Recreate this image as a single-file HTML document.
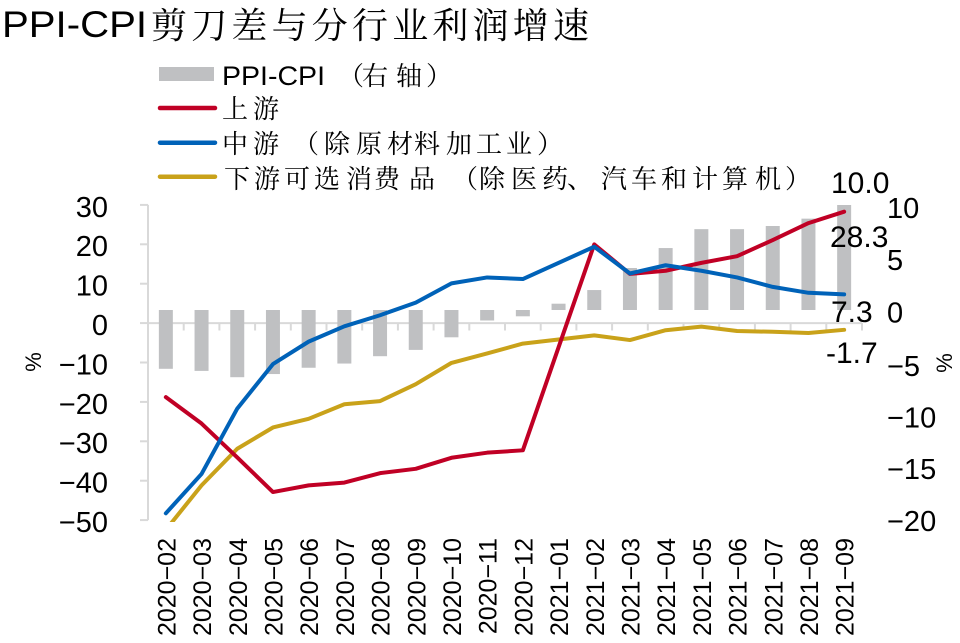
<!DOCTYPE html>
<html>
<head>
<meta charset="utf-8">
<style>
  html, body { margin: 0; padding: 0; background: #ffffff; }
  body { width: 960px; height: 643px; overflow: hidden; }
  svg { display: block; }
  .num { font-family: "Liberation Sans", Arial, sans-serif; fill: #000; }
  .cjk { font-family: "Liberation Sans", "Noto Serif CJK SC", "Noto Sans CJK SC", "WenQuanYi Zen Hei", sans-serif; fill: #000; }
</style>
</head>
<body>
<svg width="960" height="643" viewBox="0 0 960 643" xmlns="http://www.w3.org/2000/svg">
  <defs>
    <clipPath id="plot">
      <rect x="140" y="195" width="730" height="327"/>
    </clipPath>
  </defs>

  <!-- Title -->
  <text class="num" x="2" y="37" font-size="37" textLength="145" lengthAdjust="spacingAndGlyphs">PPI-CPI</text>
  <text class="cjk" x="151" y="38" font-size="36" textLength="438">剪刀差与分行业利润增速</text>

  <!-- Legend -->
  <rect x="159" y="67" width="55" height="14" fill="#bfc0c2"/>
  <text class="num" x="222" y="85" font-size="27" textLength="103" lengthAdjust="spacingAndGlyphs">PPI-CPI</text>
  <text class="cjk" x="338 362 396 426" y="85" font-size="26">（右轴）</text>

  <line x1="160" y1="108" x2="215" y2="108" stroke="#c00025" stroke-width="4.5" stroke-linecap="round"/>
  <text class="cjk" x="222 253" y="118" font-size="26">上游</text>

  <line x1="160" y1="142.7" x2="215" y2="142.7" stroke="#0062b8" stroke-width="4.5" stroke-linecap="round"/>
  <text class="cjk" x="222 253 293 324 356 387 414 446 476 506 537" y="153" font-size="26">中游（除原材料加工业）</text>

  <line x1="160" y1="176.7" x2="215" y2="176.7" stroke="#c9a21a" stroke-width="4.5" stroke-linecap="round"/>
  <text class="cjk" x="224 254 284 314 346 374 409 452 479 511 542 567 601 631 661 692 722 755 785" y="188" font-size="26">下游可选消费品（除医药、汽车和计算机）</text>

  <!-- Left axis -->
  <g stroke="#d9d9d9" stroke-width="2" fill="none">
    <line x1="148" y1="204.9" x2="148" y2="520.1"/>
    <line x1="140" y1="204.9" x2="148" y2="204.9"/>
    <line x1="140" y1="244.3" x2="148" y2="244.3"/>
    <line x1="140" y1="283.7" x2="148" y2="283.7"/>
    <line x1="140" y1="323.1" x2="148" y2="323.1"/>
    <line x1="140" y1="362.5" x2="148" y2="362.5"/>
    <line x1="140" y1="401.9" x2="148" y2="401.9"/>
    <line x1="140" y1="441.3" x2="148" y2="441.3"/>
    <line x1="140" y1="480.7" x2="148" y2="480.7"/>
    <line x1="140" y1="520.1" x2="148" y2="520.1"/>
  </g>
  <g class="num" font-size="29" text-anchor="end">
    <text x="108" y="217">30</text>
    <text x="108" y="256">20</text>
    <text x="108" y="295.5">10</text>
    <text x="108" y="335">0</text>
    <text x="108" y="374.5">−10</text>
    <text x="108" y="414">−20</text>
    <text x="108" y="453">−30</text>
    <text x="108" y="492.5">−40</text>
    <text x="108" y="532">−50</text>
  </g>
  <text class="num" font-size="22" text-anchor="middle" transform="translate(41,362) rotate(-90)">%</text>

  <!-- Right axis labels -->
  <g class="num" font-size="29">
    <text x="887" y="218">10</text>
    <text x="887" y="270">5</text>
    <text x="887" y="322.5">0</text>
    <text x="887" y="376">−5</text>
    <text x="887" y="427.5">−10</text>
    <text x="887" y="479">−15</text>
    <text x="887" y="531">−20</text>
  </g>
  <text class="num" font-size="22" text-anchor="middle" transform="translate(952,363) rotate(-90)">%</text>

  <!-- X axis line and ticks -->
  <g stroke="#d9d9d9" stroke-width="2" fill="none">
    <line x1="148" y1="323.1" x2="862" y2="323.1"/>
    <line x1="183.7" y1="323" x2="183.7" y2="330.5"/>
    <line x1="219.4" y1="323" x2="219.4" y2="330.5"/>
    <line x1="255.1" y1="323" x2="255.1" y2="330.5"/>
    <line x1="290.8" y1="323" x2="290.8" y2="330.5"/>
    <line x1="326.5" y1="323" x2="326.5" y2="330.5"/>
    <line x1="362.2" y1="323" x2="362.2" y2="330.5"/>
    <line x1="397.9" y1="323" x2="397.9" y2="330.5"/>
    <line x1="433.6" y1="323" x2="433.6" y2="330.5"/>
    <line x1="469.3" y1="323" x2="469.3" y2="330.5"/>
    <line x1="505" y1="323" x2="505" y2="330.5"/>
    <line x1="540.7" y1="323" x2="540.7" y2="330.5"/>
    <line x1="576.4" y1="323" x2="576.4" y2="330.5"/>
    <line x1="612.1" y1="323" x2="612.1" y2="330.5"/>
    <line x1="647.8" y1="323" x2="647.8" y2="330.5"/>
    <line x1="683.5" y1="323" x2="683.5" y2="330.5"/>
    <line x1="719.2" y1="323" x2="719.2" y2="330.5"/>
    <line x1="754.9" y1="323" x2="754.9" y2="330.5"/>
    <line x1="790.6" y1="323" x2="790.6" y2="330.5"/>
    <line x1="826.3" y1="323" x2="826.3" y2="330.5"/>
    <line x1="862" y1="323" x2="862" y2="330.5"/>
  </g>

  <!-- Bars (right axis) -->
  <g fill="#bfc0c2">
    <rect x="158.85" y="310" width="14" height="58.8"/>
    <rect x="194.55" y="310" width="14" height="60.9"/>
    <rect x="230.25" y="310" width="14" height="67.2"/>
    <rect x="265.95" y="310" width="14" height="64.05"/>
    <rect x="301.65" y="310" width="14" height="57.75"/>
    <rect x="337.35" y="310" width="14" height="53.55"/>
    <rect x="373.05" y="310" width="14" height="46.2"/>
    <rect x="408.75" y="310" width="14" height="39.9"/>
    <rect x="444.45" y="310" width="14" height="27.3"/>
    <rect x="480.15" y="310" width="14" height="10.5"/>
    <rect x="515.85" y="310" width="14" height="6.3"/>
    <rect x="551.55" y="303.7" width="14" height="6.3"/>
    <rect x="587.25" y="290.05" width="14" height="19.95"/>
    <rect x="622.95" y="268" width="14" height="42"/>
    <rect x="658.65" y="248.05" width="14" height="61.95"/>
    <rect x="694.35" y="229.15" width="14" height="80.85"/>
    <rect x="730.05" y="229.15" width="14" height="80.85"/>
    <rect x="765.75" y="226" width="14" height="84"/>
    <rect x="801.45" y="218.65" width="14" height="91.35"/>
    <rect x="837.15" y="205" width="14" height="105"/>
  </g>

  <!-- Lines -->
  <g clip-path="url(#plot)" fill="none" stroke-width="4" stroke-linejoin="round" stroke-linecap="round">
    <polyline stroke="#c9a21a" points="165.85,529.84 201.55,485.35 237.25,448.73 272.95,427.47 308.65,418.81 344.35,404.24 380.05,401.09 415.75,384.16 451.45,362.89 487.15,353.44 522.85,343.6 594.25,335.33 629.95,340.06 665.65,330.21 701.35,326.67 737.05,331.0 772.75,331.79 808.45,332.97 844.15,329.82"/>
    <polyline stroke="#c00025" points="165.85,397.15 201.55,423.53 237.25,457.4 272.95,492.04 308.65,485.35 344.35,482.59 380.05,473.14 415.75,468.81 451.45,457.79 487.15,452.67 522.85,450.31 594.25,244.38 629.95,273.91 665.65,270.76 701.35,262.88 737.05,256.19 772.75,240.04 808.45,223.11 844.15,211.69"/>
    <polyline stroke="#0062b8" points="165.85,513.31 201.55,473.93 237.25,408.57 272.95,364.08 308.65,341.63 344.35,326.28 380.05,315.25 415.75,302.65 451.45,283.36 487.15,277.45 522.85,279.03 594.25,246.74 629.95,273.51 665.65,265.24 701.35,270.76 737.05,277.45 772.75,286.9 808.45,292.81 844.15,294.38"/>
  </g>

  <!-- Data labels -->
  <g class="num" font-size="30">
    <text x="831" y="193">10.0</text>
    <text x="830" y="247">28.3</text>
    <text x="831" y="322">7.3</text>
    <text x="826" y="363">-1.7</text>
  </g>

  <!-- X labels -->
  <g class="num" font-size="25" text-anchor="end">
    <text transform="translate(175.35,538) rotate(-90)">2020−02</text>
    <text transform="translate(211.05,538) rotate(-90)">2020−03</text>
    <text transform="translate(246.75,538) rotate(-90)">2020−04</text>
    <text transform="translate(282.45,538) rotate(-90)">2020−05</text>
    <text transform="translate(318.15,538) rotate(-90)">2020−06</text>
    <text transform="translate(353.85,538) rotate(-90)">2020−07</text>
    <text transform="translate(389.55,538) rotate(-90)">2020−08</text>
    <text transform="translate(425.25,538) rotate(-90)">2020−09</text>
    <text transform="translate(460.95,538) rotate(-90)">2020−10</text>
    <text transform="translate(496.65,538) rotate(-90)">2020−11</text>
    <text transform="translate(532.35,538) rotate(-90)">2020−12</text>
    <text transform="translate(568.05,538) rotate(-90)">2021−01</text>
    <text transform="translate(603.75,538) rotate(-90)">2021−02</text>
    <text transform="translate(639.45,538) rotate(-90)">2021−03</text>
    <text transform="translate(675.15,538) rotate(-90)">2021−04</text>
    <text transform="translate(710.85,538) rotate(-90)">2021−05</text>
    <text transform="translate(746.55,538) rotate(-90)">2021−06</text>
    <text transform="translate(782.25,538) rotate(-90)">2021−07</text>
    <text transform="translate(817.95,538) rotate(-90)">2021−08</text>
    <text transform="translate(853.65,538) rotate(-90)">2021−09</text>
  </g>
</svg>
</body>
</html>
